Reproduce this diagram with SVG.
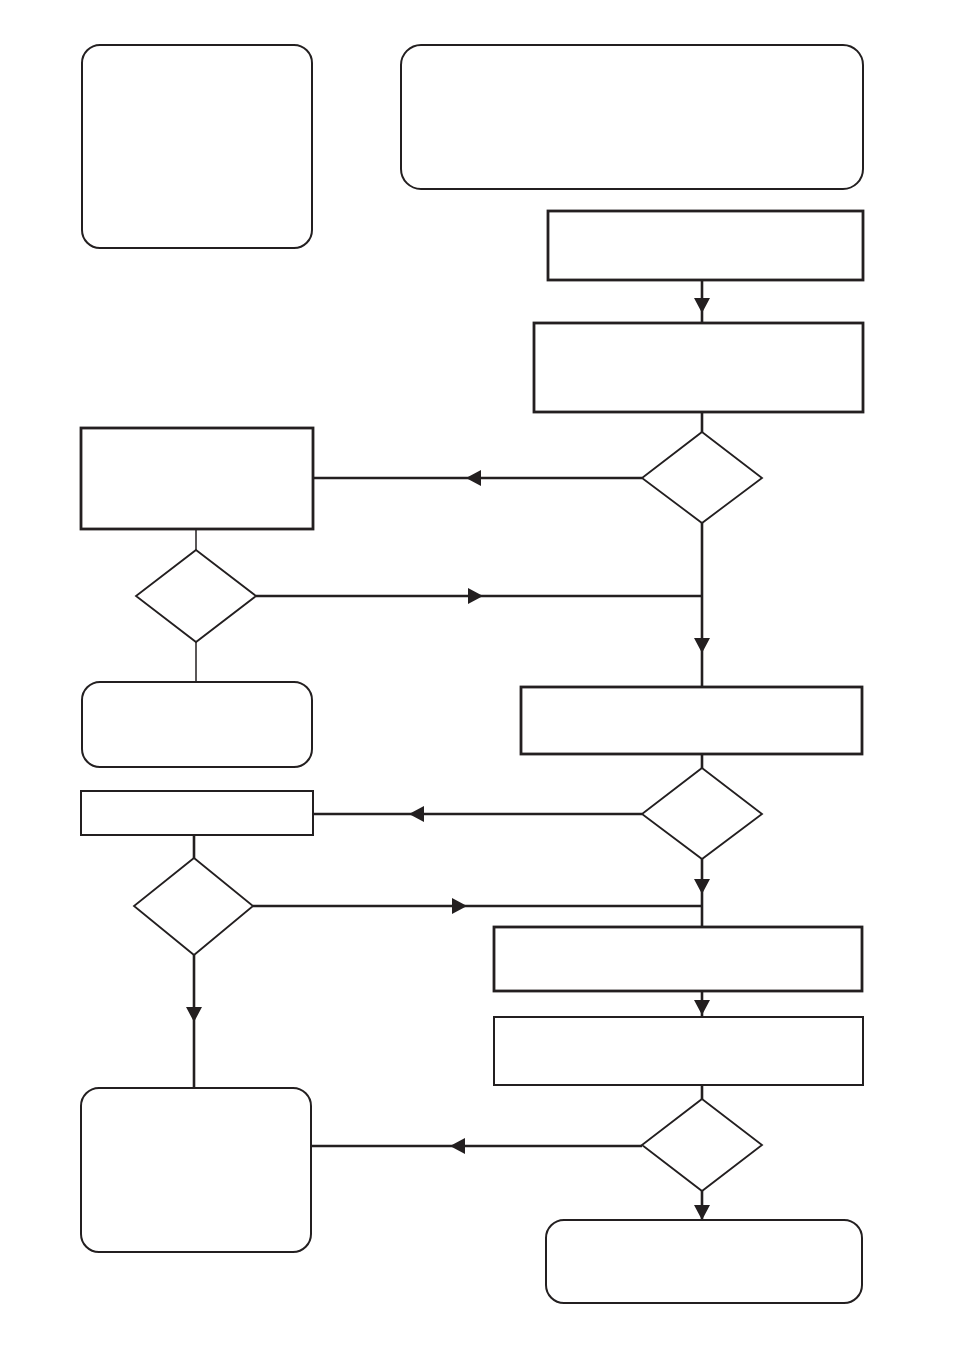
<svg xmlns="http://www.w3.org/2000/svg" width="954" height="1350" viewBox="0 0 954 1350">
<style>
.rr{fill:#fff;stroke:#231f20;stroke-width:2}
.rb{fill:#fff;stroke:#231f20;stroke-width:2.8}
.rm{fill:#fff;stroke:#231f20;stroke-width:2}
.dm{fill:#fff;stroke:#231f20;stroke-width:1.8}
.ln{fill:none;stroke:#231f20;stroke-width:2.6}
.lt{fill:none;stroke:#231f20;stroke-width:1.5}
.ah{fill:#231f20}
</style>
<defs>
<path id="ah" d="M0,0 L-15,-8 L-15,8 Z"/>
</defs>
<rect width="954" height="1350" fill="#fff"/>
<g id="connectors">
<line class="ln" x1="702" y1="280" x2="702" y2="323"/>
<line class="ln" x1="702" y1="412" x2="702" y2="432"/>
<line class="ln" x1="642" y1="478" x2="313" y2="478"/>
<line class="ln" x1="702" y1="523" x2="702" y2="687"/>
<line class="ln" x1="256" y1="596" x2="702" y2="596"/>
<line class="lt" x1="196" y1="529" x2="196" y2="550"/>
<line class="lt" x1="196" y1="642" x2="196" y2="682"/>
<line class="ln" x1="702" y1="754" x2="702" y2="768"/>
<line class="ln" x1="642" y1="814" x2="313" y2="814"/>
<line class="ln" x1="702" y1="859" x2="702" y2="927"/>
<line class="ln" x1="253" y1="906" x2="702" y2="906"/>
<line class="ln" x1="194" y1="835" x2="194" y2="858"/>
<line class="ln" x1="194" y1="955" x2="194" y2="1088"/>
<line class="ln" x1="702" y1="991" x2="702" y2="1017"/>
<line class="ln" x1="702" y1="1085" x2="702" y2="1099"/>
<line class="ln" x1="642" y1="1146" x2="311" y2="1146"/>
<line class="ln" x1="702" y1="1191" x2="702" y2="1220"/>
<use href="#ah" class="ah" transform="translate(702,313) rotate(90)"/>
<use href="#ah" class="ah" transform="translate(466,478) rotate(180)"/>
<use href="#ah" class="ah" transform="translate(483,596)"/>
<use href="#ah" class="ah" transform="translate(702,653) rotate(90)"/>
<use href="#ah" class="ah" transform="translate(409,814) rotate(180)"/>
<use href="#ah" class="ah" transform="translate(467,906)"/>
<use href="#ah" class="ah" transform="translate(702,894) rotate(90)"/>
<use href="#ah" class="ah" transform="translate(702,1015) rotate(90)"/>
<use href="#ah" class="ah" transform="translate(194,1022) rotate(90)"/>
<use href="#ah" class="ah" transform="translate(450,1146) rotate(180)"/>
<use href="#ah" class="ah" transform="translate(702,1220) rotate(90)"/>
</g>
<g id="n1"><rect class="rr" x="82" y="45" width="230" height="203" rx="18"/></g>
<g id="n2"><rect class="rr" x="401" y="45" width="462" height="144" rx="20"/></g>
<g id="n3"><rect class="rb" x="548" y="211" width="315" height="69"/></g>
<g id="n4"><rect class="rb" x="534" y="323" width="329" height="89"/></g>
<g id="d1"><polygon class="dm" points="702,432 762,478 702,523 642,478"/></g>
<g id="n5"><rect class="rb" x="81" y="428" width="232" height="101"/></g>
<g id="d2"><polygon class="dm" points="196,550 256,596 196,642 136,596"/></g>
<g id="n6"><rect class="rr" x="82" y="682" width="230" height="85" rx="18"/></g>
<g id="n7"><rect class="rb" x="521" y="687" width="341" height="67"/></g>
<g id="d3"><polygon class="dm" points="702,768 762,814 702,859 642,814"/></g>
<g id="n8"><rect class="rm" x="81" y="791" width="232" height="44"/></g>
<g id="d4"><polygon class="dm" points="194,858 253,906 194,955 134,906"/></g>
<g id="n9"><rect class="rb" x="494" y="927" width="368" height="64"/></g>
<g id="n10"><rect class="rm" x="494" y="1017" width="369" height="68"/></g>
<g id="n11"><rect class="rr" x="81" y="1088" width="230" height="164" rx="18"/></g>
<g id="d5"><polygon class="dm" points="702,1099 762,1145 702,1191 642,1145"/></g>
<g id="n12"><rect class="rr" x="546" y="1220" width="316" height="83" rx="18"/></g>
</svg>
